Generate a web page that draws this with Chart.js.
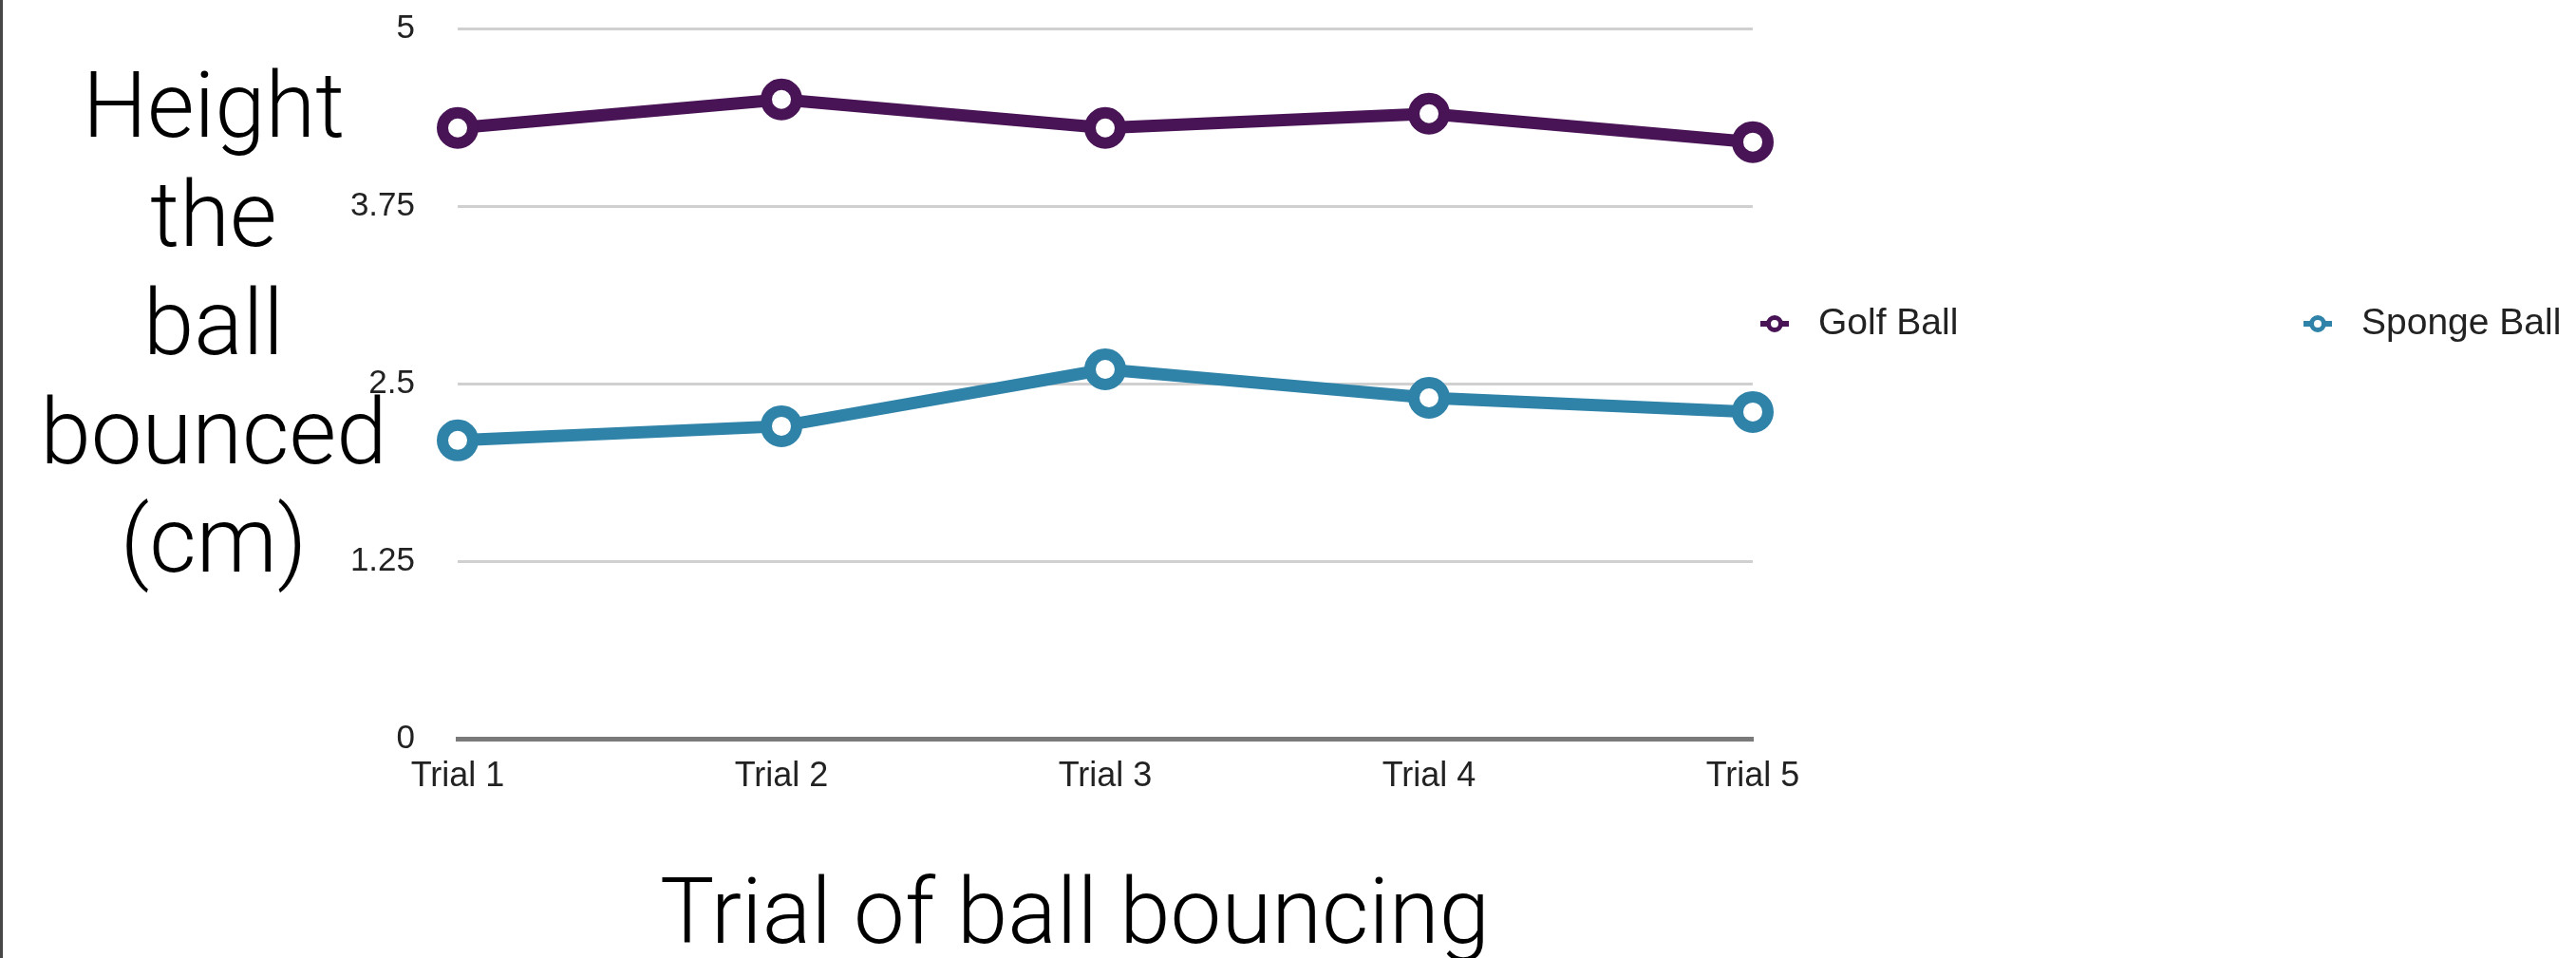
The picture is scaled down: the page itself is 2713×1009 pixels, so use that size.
<!DOCTYPE html>
<html>
<head>
<meta charset="utf-8">
<script src="https://cdn.jsdelivr.net/npm/chart.js@4/dist/chart.umd.min.js"></script>
<style>
    body { margin: 0; background: #ffffff; }
    #wrap { position: relative; width: 2713px; height: 1009px; }
    #edge { position: absolute; left: 0; top: 0; width: 3px; height: 1009px; background: #474747; }
</style>
</head>
<body>
<div id="wrap">
    <canvas id="bounceChart"></canvas>
    <div id="edge"></div>
</div>
<script>
const trials = ["Trial 1", "Trial 2", "Trial 3", "Trial 4", "Trial 5"];
const golfBall = [4.3, 4.5, 4.3, 4.4, 4.2];
const spongeBall = [2.1, 2.2, 2.6, 2.4, 2.3];
const yTicks = [0, 1.25, 2.5, 3.75, 5];
const yTitleLines = ["Height", "the", "ball", "bounced", "(cm)"];
const xTitle = "Trial of ball bouncing";

const golfColor = "#481455";
const spongeColor = "#2f82a8";

// axis titles and the side legend are laid out by hand
const titlesAndLegend = {
    id: "titlesAndLegend",
    afterDraw(chart) {
        const ctx = chart.ctx;
        ctx.save();
        ctx.fillStyle = "#000000";
        ctx.font = "300 96px Roboto, 'Open Sans', 'Liberation Sans', sans-serif";
        ctx.textAlign = "center";
        ctx.textBaseline = "alphabetic";
        yTitleLines.forEach((line, i) => {
            ctx.fillText(line, 225, 144 + i * 114.5);
        });
        ctx.fillText(xTitle, 1132, 993);

        // legend: short line with a ring marker, then the label
        const items = chart.options.plugins.legend.labels.generateLabels(chart);
        const markerX = [1869, 2441];
        items.forEach((item, i) => {
            const x = markerX[i];
            const y = 341;
            ctx.beginPath();
            ctx.moveTo(x - 15, y);
            ctx.lineTo(x + 15, y);
            ctx.lineWidth = 6;
            ctx.strokeStyle = item.strokeStyle;
            ctx.stroke();
            ctx.beginPath();
            ctx.arc(x, y, 6.5, 0, Math.PI * 2);
            ctx.fillStyle = "#ffffff";
            ctx.fill();
            ctx.lineWidth = 5;
            ctx.stroke();
            ctx.fillStyle = "#222222";
            ctx.font = "39px 'Liberation Sans', Arial, sans-serif";
            ctx.textAlign = "left";
            ctx.textBaseline = "middle";
            ctx.fillText(item.text, x + 46, y);
        });
        ctx.restore();
    }
};

const ctx = document.getElementById("bounceChart").getContext("2d");

new Chart(ctx, {
    type: "line",
    data: {
        labels: trials,
        datasets: [
            {
                label: "Golf Ball",
                data: golfBall,
                borderColor: golfColor,
                pointBorderColor: golfColor,
                pointBackgroundColor: "#ffffff",
                borderWidth: 13,
                pointRadius: 16,
                pointBorderWidth: 12,
                tension: 0,
                clip: false
            },
            {
                label: "Sponge Ball",
                data: spongeBall,
                borderColor: spongeColor,
                pointBorderColor: spongeColor,
                pointBackgroundColor: "#ffffff",
                borderWidth: 13,
                pointRadius: 16,
                pointBorderWidth: 12,
                tension: 0,
                clip: false
            }
        ]
    },
    options: {
        responsive: true,
        maintainAspectRatio: false,
        animation: false,
        layout: {
            padding: { left: 0, right: 867, top: 30, bottom: 0 }
        },
        plugins: {
            legend: { display: false },
            tooltip: { enabled: false }
        },
        scales: {
            x: {
                grid: { display: false, drawTicks: false },
                border: { display: true, color: "#7a7a7a", width: 5 },
                ticks: {
                    color: "#222222",
                    padding: 18,
                    maxRotation: 0,
                    font: { family: "'Liberation Sans', Arial, sans-serif", size: 36 }
                },
                afterFit(scale) {
                    scale.height = 231;
                    scale.paddingLeft = 0;
                    scale.paddingRight = 0;
                }
            },
            y: {
                min: 0,
                max: 5,
                afterBuildTicks(scale) {
                    scale.ticks = yTicks.map(v => ({ value: v }));
                },
                grid: {
                    drawTicks: false,
                    color: c => c.tick.value === 0 ? "#7a7a7a" : "#d0d0d0",
                    lineWidth: c => c.tick.value === 0 ? 5 : 3
                },
                border: { display: false },
                ticks: {
                    color: "#222222",
                    padding: 45,
                    callback: value => String(value),
                    font: { family: "'Liberation Sans', Arial, sans-serif", size: 35 }
                },
                afterFit(scale) {
                    scale.width = 482;
                    scale.paddingTop = 0;
                    scale.paddingBottom = 0;
                }
            }
        }
    },
    plugins: [titlesAndLegend]
});
</script>
</body>
</html>
